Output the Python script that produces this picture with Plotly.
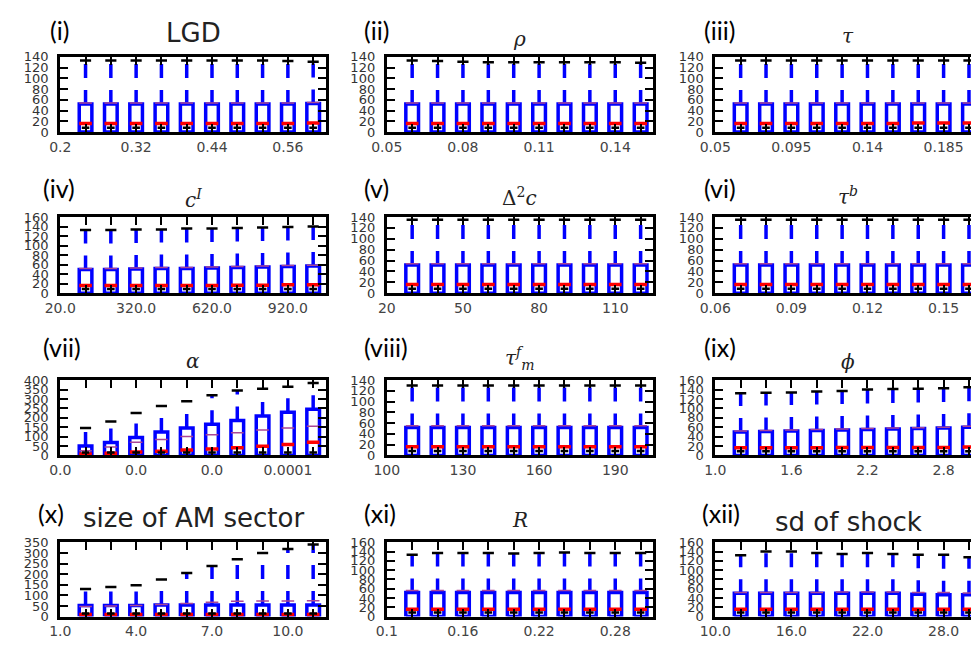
import plotly.graph_objects as go

# ---------------- data ----------------
positions = [1, 2, 3, 4, 5, 6, 7, 8, 9, 10]
q1_all = [0, 0, 0, 0, 0, 0, 0, 0, 0, 0]
low_140 = [8, 8, 8, 8, 8, 8, 8, 8, 8, 8]
low_160 = [9, 9, 9, 9, 9, 9, 9, 9, 9, 9]
low_400 = [16, 16, 16, 16, 16, 16, 16, 16, 16, 16]
low_350 = [14, 14, 14, 14, 14, 14, 14, 14, 14, 14]

panel_labels = ["(i)", "(ii)", "(iii)", "(iv)", "(v)", "(vi)",
                "(vii)", "(viii)", "(ix)", "(x)", "(xi)", "(xii)"]
panel_titles = ["LGD", "<i>ρ</i>", "<i>τ</i>", "<i>c</i><sup><i>I</i></sup>",
                "Δ<sup>2</sup><i>c</i>", "<i>τ</i><sup><i>b</i></sup>", "<i>α</i>",
                "<i>τ</i><sup><i>f</i></sup><sub><i>m</i></sub>", "<i>ϕ</i>",
                "size of AM sector", "<i>R</i>", "sd of shock"]

lgd_ticks = ["0.2", "0.32", "0.44", "0.56"]
rho_ticks = ["0.05", "0.08", "0.11", "0.14"]
tau_ticks = ["0.05", "0.095", "0.14", "0.185"]
ci_ticks = ["20.0", "320.0", "620.0", "920.0"]
d2c_ticks = ["20", "50", "80", "110"]
taub_ticks = ["0.06", "0.09", "0.12", "0.15"]
alpha_ticks = ["0.0", "0.0", "0.0", "0.0001"]
taumf_ticks = ["100", "130", "160", "190"]
phi_ticks = ["1.0", "1.6", "2.2", "2.8"]
am_ticks = ["1.0", "4.0", "7.0", "10.0"]
r_ticks = ["0.1", "0.16", "0.22", "0.28"]
sd_ticks = ["10.0", "16.0", "22.0", "28.0"]

lgd_q3 = [52, 52, 52, 52, 52, 52, 52, 52, 52, 53]
lgd_med = [16, 16, 16, 16, 16, 16, 16, 16, 16, 17]
lgd_mean = [54, 54, 54, 54, 54, 54, 54, 54, 54, 55]
lgd_cap = [133, 133, 133, 133, 133, 133, 133, 133, 132, 131]

rho_q3 = [52, 52, 52, 52, 52, 52, 52, 52, 52, 52]
rho_med = [16, 16, 16, 16, 16, 16, 16, 16, 16, 16]
rho_mean = [54, 54, 54, 54, 54, 54, 54, 54, 54, 54]
rho_cap = [133, 132, 131, 130, 130, 130, 130, 130, 130, 129]

tau_q3 = [52, 52, 52, 52, 52, 52, 52, 52, 52, 52]
tau_med = [16, 16, 16, 16, 16, 16, 16, 17, 17, 17]
tau_mean = [54, 54, 54, 54, 54, 54, 54, 54, 54, 54]
tau_cap = [133, 133, 133, 133, 133, 133, 133, 133, 133, 133]

ci_q3 = [50, 50, 51, 52, 52, 53, 54, 55, 56, 57]
ci_med = [16, 16, 16, 16, 16, 16, 17, 17, 18, 18]
ci_mean = [52, 52, 53, 54, 54, 55, 56, 57, 58, 59]
ci_cap = [133, 133, 134, 134, 136, 136, 137, 138, 139, 140]

d2c_q3 = [52, 52, 52, 52, 52, 52, 52, 52, 52, 52]
d2c_med = [16, 16, 16, 16, 16, 16, 16, 16, 16, 16]
d2c_mean = [54, 54, 54, 54, 54, 54, 54, 54, 54, 54]
d2c_cap = [135, 135, 135, 135, 135, 135, 135, 135, 135, 135]

taub_q3 = [52, 52, 52, 52, 52, 52, 52, 52, 52, 52]
taub_med = [16, 16, 16, 16, 16, 16, 16, 16, 16, 16]
taub_mean = [54, 54, 54, 54, 54, 54, 54, 54, 54, 54]
taub_cap = [135, 135, 135, 135, 135, 135, 135, 135, 135, 135]

alpha_q3 = [50, 68, 95, 125, 145, 165, 185, 210, 230, 245]
alpha_med = [8, 12, 18, 22, 28, 34, 40, 48, 58, 70]
alpha_mean = [25, 45, 70, 85, 100, 110, 120, 135, 145, 155]
alpha_cap = [145, 180, 225, 262, 288, 320, 345, 355, 365, 385]

taumf_q3 = [52, 52, 52, 52, 52, 52, 52, 52, 52, 52]
taumf_med = [16, 16, 16, 16, 16, 16, 16, 16, 16, 16]
taumf_mean = [55, 55, 55, 55, 55, 55, 55, 55, 55, 55]
taumf_cap = [130, 130, 130, 130, 130, 130, 130, 130, 130, 130]

phi_q3 = [50, 51, 52, 53, 54, 55, 56, 57, 58, 60]
phi_med = [16, 16, 16, 16, 17, 17, 17, 17, 17, 18]
phi_mean = [52, 53, 54, 55, 56, 57, 58, 59, 60, 62]
phi_cap = [132, 133, 134, 136, 137, 140, 141, 142, 143, 145]

am_q3 = [52, 52, 52, 55, 55, 55, 55, 55, 55, 55]
am_med = [10, 10, 10, 10, 10, 10, 10, 10, 10, 10]
am_mean = [48, 50, 52, 57, 62, 68, 72, 74, 74, 75]
am_cap = [130, 140, 148, 175, 205, 238, 270, 300, 318, 340]

r_q3 = [52, 52, 52, 52, 52, 52, 52, 52, 52, 52]
r_med = [16, 16, 16, 16, 16, 16, 16, 16, 16, 16]
r_mean = [56, 56, 56, 56, 56, 56, 56, 56, 56, 56]
r_cap = [133, 137, 137, 137, 136, 137, 138, 137, 137, 137]

sd_q3 = [50, 50, 50, 50, 50, 50, 50, 48, 47, 47]
sd_med = [16, 16, 16, 16, 16, 16, 16, 16, 16, 16]
sd_mean = [52, 52, 52, 52, 53, 53, 53, 52, 52, 51]
sd_cap = [132, 140, 140, 137, 135, 137, 135, 133, 133, 128]

y_max = [140, 140, 140, 160, 140, 140, 400, 140, 160, 350, 160, 160]
y_step = [20, 20, 20, 20, 20, 20, 50, 20, 20, 50, 20, 20]

panels = [
    (lgd_q3, lgd_med, lgd_mean, lgd_cap, low_140, lgd_ticks),
    (rho_q3, rho_med, rho_mean, rho_cap, low_140, rho_ticks),
    (tau_q3, tau_med, tau_mean, tau_cap, low_140, tau_ticks),
    (ci_q3, ci_med, ci_mean, ci_cap, low_160, ci_ticks),
    (d2c_q3, d2c_med, d2c_mean, d2c_cap, low_140, d2c_ticks),
    (taub_q3, taub_med, taub_mean, taub_cap, low_140, taub_ticks),
    (alpha_q3, alpha_med, alpha_mean, alpha_cap, low_400, alpha_ticks),
    (taumf_q3, taumf_med, taumf_mean, taumf_cap, low_140, taumf_ticks),
    (phi_q3, phi_med, phi_mean, phi_cap, low_160, phi_ticks),
    (am_q3, am_med, am_mean, am_cap, low_350, am_ticks),
    (r_q3, r_med, r_mean, r_cap, low_160, r_ticks),
    (sd_q3, sd_med, sd_mean, sd_cap, low_160, sd_ticks),
]

# ---------------- layout geometry ----------------
W, H = 971, 649
col_px = [(45, 315), (377, 648), (711, 971)]
row_px = [(51, 128), (215, 293), (382, 459), (548, 624)]
col_range = [10.5, 10.5, 10.08]
label_left = [[33, 352, 698], [25, 352, 698], [25, 352, 697], [20, 352, 695]]
label_yc = [24, 185, 348, 518]
title_yc = [[27, 33, 30], [197, 195, 193], [362, 360, 363], [523, 525, 527]]
title_size = [[26, 20, 20], [20, 20, 20], [20, 20, 20], [26, 20, 26]]

BW = 0.25   # box half width
CW = 0.22   # cap half width
BLUE = "#0000ff"
RED = "#ff0000"
PURPLE = "rgb(170,70,150)"

fig = go.Figure()
layout = dict(width=W, height=H, margin=dict(l=0, r=0, t=0, b=0),
              plot_bgcolor="white", paper_bgcolor="white", showlegend=False)
annotations = []

for i, (q3, med, mean, cap, low, ticks) in enumerate(panels):
    r, c = divmod(i, 3)
    sfx = "" if i == 0 else str(i + 1)
    xa, ya = "x" + sfx, "y" + sfx
    q1 = q1_all

    wx, wy, bx, by, mx, my, ex, ey, cx, cy = [], [], [], [], [], [], [], [], [], []
    for p, a, b, m, e, k, lo in zip(positions, q1, q3, med, mean, cap, low):
        wx += [p, p, None]; wy += [b, k, None]
        bx += [p - BW, p + BW, p + BW, p - BW, p - BW, None]
        by += [a, a, b, b, a, None]
        mx += [p - BW, p + BW, None]; my += [m, m, None]
        ex += [p - BW, p + BW, None]; ey += [e, e, None]
        cx += [p - CW, p + CW, None, p - 0.15, p + 0.15, None]
        cy += [k, k, None, lo, lo, None]

    common = dict(xaxis=xa, yaxis=ya, mode="lines", hoverinfo="skip")
    fig.add_trace(go.Scatter(x=wx, y=wy, line=dict(color=BLUE, width=3.5, dash="14px,12px"), **common))
    fig.add_trace(go.Scatter(x=bx, y=by, line=dict(color=BLUE, width=3.5), **common))
    fig.add_trace(go.Scatter(x=ex, y=ey, line=dict(color=PURPLE, width=1.5), **common))
    fig.add_trace(go.Scatter(x=mx, y=my, line=dict(color=RED, width=3.5), **common))
    fig.add_trace(go.Scatter(x=cx, y=cy, line=dict(color="black", width=2.5), **common))

    x0, x1 = col_px[c]
    yt, yb = row_px[r]
    major_vals = [0, 3, 6, 9]

    layout["xaxis" + sfx] = dict(
        domain=[x0 / W, x1 / W], range=[0, col_range[c]], anchor=ya,
        showline=True, linecolor="black", linewidth=3, mirror="ticks",
        ticks="inside", ticklen=8, tickwidth=1.5, tickcolor="black",
        tickvals=major_vals, ticktext=ticks, showgrid=False, zeroline=False,
        minor=dict(tickvals=positions, ticks="inside", ticklen=8, tickwidth=1.5,
                   tickcolor="black", showgrid=False),
        tickfont=dict(family="DejaVu Sans", size=14, color="#444"),
        fixedrange=True)
    layout["yaxis" + sfx] = dict(
        domain=[1 - yb / H, 1 - yt / H], range=[0, y_max[i]], anchor=xa,
        showline=True, linecolor="black", linewidth=3,
        mirror=("ticks" if c < 2 else False),
        ticks="inside", ticklen=8, tickwidth=1.5, tickcolor="black",
        tick0=0, dtick=y_step[i], showgrid=False, zeroline=False,
        tickfont=dict(family="DejaVu Sans", size=13, color="#333"),
        ticklabelstandoff=6, fixedrange=True)

    annotations.append(dict(
        text=panel_labels[i], xref="paper", yref="paper",
        x=label_left[r][c] / W, y=1 - label_yc[r] / H,
        xanchor="left", yanchor="middle", showarrow=False,
        font=dict(family="Lato, Liberation Sans", size=25, color="black")))
    serif = panel_titles[i].startswith("<i>") or panel_titles[i].startswith("Δ")
    annotations.append(dict(
        text=panel_titles[i], xref="paper", yref="paper",
        x=((x0 + (x0 + 270)) / 2) / W, y=1 - title_yc[r][c] / H,
        xanchor="center", yanchor="middle", showarrow=False,
        font=dict(family=("DejaVu Serif" if serif else "DejaVu Sans"),
                  size=title_size[r][c], color="#222")))

layout["annotations"] = annotations
fig.update_layout(**layout)
fig.write_html("out.html", config={"displayModeBar": False},
               post_script="document.body.style.margin='0';document.body.style.overflow='hidden';")
